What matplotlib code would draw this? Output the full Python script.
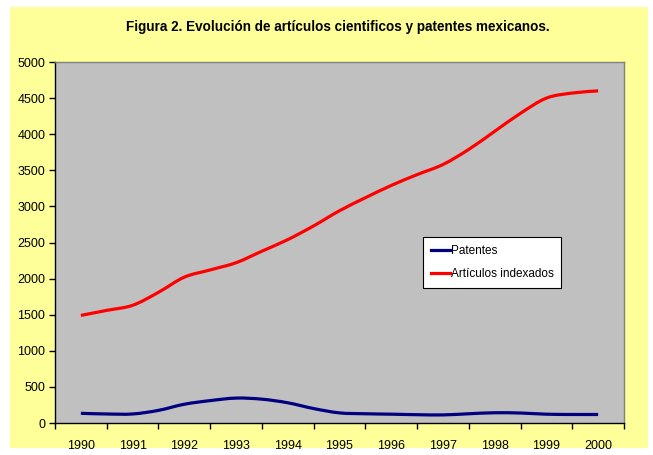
import matplotlib
matplotlib.use("Agg")
import matplotlib.pyplot as plt
from matplotlib.path import Path
from matplotlib.patches import PathPatch, Rectangle
from matplotlib.lines import Line2D
import numpy as np

# %% Datos (valores semestrales)

anios = ["1990", "1991", "1992", "1993", "1994", "1995", "1996", "1997", "1998", "1999", "2000"]

patentes = [134, 125, 125, 175, 260, 310, 345, 330, 280, 200, 140,
            128, 122, 115, 112, 128, 142, 138, 122, 118, 118]

articulos = [1490, 1560, 1630, 1810, 2020, 2120, 2220, 2380, 2540, 2730, 2940,
             3120, 3290, 3440, 3580, 3790, 4040, 4290, 4500, 4570, 4600]

amarillo = "#FFFF99"
gris = "#C0C0C0"
azul = "#000080"
rojo = "#FF0000"


# %% Linea suavizada (como el "suavizado" de Excel)


def linea_suave(ax, y, color):
    x = np.arange(len(y), dtype=float)
    y = np.asarray(y, dtype=float)
    verts = [(x[0], y[0])]
    codes = [Path.MOVETO]
    for i in range(len(x) - 1):
        x0, y0 = (x[i - 1], y[i - 1]) if i > 0 else (x[i], y[i])
        x3, y3 = (x[i + 2], y[i + 2]) if i + 2 < len(x) else (x[i + 1], y[i + 1])
        c1 = (x[i] + (x[i + 1] - x0) / 6, y[i] + (y[i + 1] - y0) / 6)
        c2 = (x[i + 1] - (x3 - x[i]) / 6, y[i + 1] - (y3 - y[i]) / 6)
        verts += [c1, c2, (x[i + 1], y[i + 1])]
        codes += [Path.CURVE4] * 3
    ax.add_patch(PathPatch(Path(verts, codes), facecolor="none", edgecolor=color,
                           lw=2.3, capstyle="butt", zorder=3))


# %% Grafico

plt.rcParams["font.family"] = ["Liberation Sans", "DejaVu Sans"]

fig = plt.figure(figsize=(6.53, 4.55), dpi=100)
fig.patch.set_facecolor("white")
fig.patches.append(Rectangle((10 / 653, 7 / 455), 638 / 653, 441 / 455, transform=fig.transFigure,
                             facecolor=amarillo, edgecolor="none", zorder=-5))

ax = fig.add_axes([55 / 653, 32 / 455, 569 / 653, 361 / 455])
ax.set_zorder(1)
ax.set_facecolor(gris)

linea_suave(ax, patentes, azul)
linea_suave(ax, articulos, rojo)

ax.set_xlim(-1, len(patentes))
ax.set_ylim(0, 5000)
ax.set_yticks(np.arange(0, 5001, 500))
ax.set_xticks(np.arange(0, len(patentes), 2))
ax.set_xticklabels(anios)
ax.set_xticks(np.arange(-1, len(patentes) + 1, 2), minor=True)
ax.tick_params(axis="x", which="major", length=0, pad=12, labelsize=9)
ax.tick_params(axis="x", which="minor", length=4, width=1, color="black")
ax.tick_params(axis="y", length=4, width=1, color="black", pad=3, labelsize=9)

for lado in ["left", "bottom"]:
    ax.spines[lado].set_color("black")
    ax.spines[lado].set_linewidth(1)
for lado in ["top", "right"]:
    ax.spines[lado].set_color("#808080")
    ax.spines[lado].set_linewidth(1)

fig.text(338 / 653, 1 - 27 / 455, "Figura 2. Evolución de artículos cientificos y patentes mexicanos.",
         ha="center", va="center", fontsize=9.75, fontweight="bold")

manejadores = [Line2D([], [], color=azul, lw=2.3), Line2D([], [], color=rojo, lw=2.3)]
leg = ax.legend(manejadores, ["Patentes", "Artículos indexados"], loc="upper left",
                bbox_to_anchor=(423 / 653, 1 - 237 / 455), bbox_transform=fig.transFigure,
                fontsize=8.5, frameon=True, fancybox=False, handlelength=1.6, handletextpad=0.1,
                labelspacing=1.0, borderpad=0.65, borderaxespad=0)
leg.get_frame().set_edgecolor("black")
leg.get_frame().set_facecolor("white")
leg.get_frame().set_linewidth(0.8)
leg.get_frame().set_alpha(1)

fig.savefig("out.png", dpi=100, facecolor=fig.get_facecolor())
